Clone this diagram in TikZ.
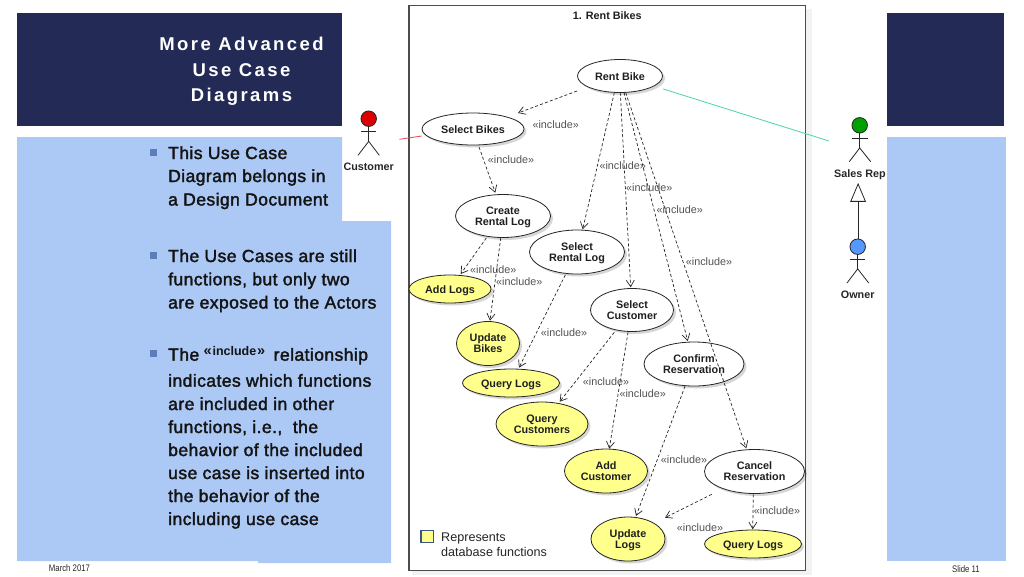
\documentclass[tikz,border=0pt]{standalone}
\usepackage{fontspec}
\setmainfont{Liberation Sans}
\newfontfamily\titlefont[LetterSpace=13]{Liberation Sans}
\newfontfamily\bodyfont[FakeBold=2,LetterSpace=2.5]{Liberation Sans}
\newfontfamily\narrowfont[FakeStretch=0.82]{Liberation Sans}
\usetikzlibrary{calc,shadows,arrows.meta,shapes.geometric}
\definecolor{navy}{HTML}{232A55}
\definecolor{paleblue}{HTML}{ACC8F5}
\definecolor{bullet}{HTML}{5B7DB8}
\definecolor{dbyellow}{HTML}{FFFF8C}
\tikzset{
  uc/.style={ellipse,draw=black!85,line width=.8pt,fill=white,inner sep=0pt,align=center,
    text depth=0pt,
    font=\fontsize{10.8}{11}\selectfont\bfseries,text=black!88,
    drop shadow={shadow xshift=2.5pt,shadow yshift=-2.5pt,opacity=.16,fill=black}},
  db/.style={uc,fill=dbyellow},
  oneline/.style={text height=9.4pt},
  dep/.style={draw=black!85,line width=.7pt,dash pattern=on 3pt off 2.2pt,
    -{Straight Barb[length=6.5pt,width=8pt,line width=.7pt]}},
  inc/.style={font=\fontsize{10.8}{12}\selectfont,text=black!68,inner sep=0pt},
  body/.style={anchor=base west,inner sep=0pt,font=\bodyfont\fontsize{17.5}{20}\selectfont,text=black!92},
  bull/.style={fill=bullet,draw=none,minimum size=7pt,inner sep=0pt},
  title/.style={anchor=base,inner sep=0pt,text=white,font=\titlefont\fontsize{18.5}{22}\selectfont\bfseries},
  actorlabel/.style={inner sep=0pt,text depth=0pt,font=\fontsize{10.8}{12}\selectfont\bfseries,text=black!85},
  limb/.style={draw=black!85,line width=.8pt},
  head/.style={circle,draw=black!85,line width=.8pt,minimum size=15.5pt,inner sep=0pt},
  foot/.style={inner sep=0pt,font=\narrowfont\fontsize{9.5}{11}\selectfont,text=black!85},
  legendtext/.style={anchor=base west,inner sep=0pt,font=\fontsize{12.6}{14}\selectfont,text=black!85}
}
\begin{document}
\begin{tikzpicture}[x=1pt,y=-1pt]
\useasboundingbox (0,0) rectangle (1024,576);
% slide background bands
\fill[navy] (17,13) rectangle (342,126);
\fill[navy] (887,13) rectangle (1004,126);
\fill[paleblue] (17,137) -- (342,137) -- (342,221) -- (391,221) -- (391,563) -- (258,563) -- (258,561) -- (17,561) -- cycle;
\fill[paleblue] (887,137) rectangle (1006,561);
% frame
\fill[black!5] (412,9) rectangle (812,575);
\draw[draw=black!70,line width=1.1pt,fill=white] (409,5.5) rectangle (805.5,570.3);
\node[title] (t1) at (241.5,50) {More Advanced};
\node[title] (t2) at (241.5,76) {Use Case};
\node[title] (t3) at (241.5,101.5) {Diagrams};
% bullets
\node[bull] (k1) at (153.8,152) {};
\node[bull] (k2) at (153.8,255.5) {};
\node[bull] (k3) at (153.8,353.5) {};
\node[body] (a1) at (168,159) {This Use Case};
\node[body] (a2) at (168,182) {Diagram belongs in};
\node[body] (a3) at (168,205.5) {a Design Document};
\node[body] (b1) at (168,262) {The Use Cases are still};
\node[body] (b2) at (168,285.3) {functions, but only two};
\node[body] (b3) at (168,308.5) {are exposed to the Actors};
\node[body] (c1) at (168,360.7) {The};
\node[body,font=\fontsize{12.5}{14}\selectfont\bfseries] (c2) at (203.5,355) {{\fontsize{14.5}{14}\selectfont«}\kern.8pt include\kern.8pt{\fontsize{14.5}{14}\selectfont»}};
\node[body] (c3) at (273.5,360.7) {relationship};
\node[body] (c4) at (168,386.7) {indicates which functions};
\node[body] (c5) at (168,410) {are included in other};
\node[body] (c6) at (168,433) {functions, i.e.,~ the};
\node[body] (c7) at (168,456) {behavior of the included};
\node[body] (c8) at (168,479) {use case is inserted into};
\node[body] (c9) at (168,502) {the behavior of the};
\node[body] (c10) at (168,525) {including use case};
\node[foot] (mar) at (69.5,568) {March 2017};
\node[foot] (sli) at (966,569) {Slide 11};
% diagram
\node[inner sep=0pt,text depth=0pt,font=\fontsize{10.8}{12}\selectfont\bfseries,text=black!88] (dt) at (607.3,16) {1. Rent Bikes};
\node[uc,oneline,minimum width=85pt,minimum height=33pt] (rent) at (620,76) {Rent Bike};
\node[uc,oneline,minimum width=102pt,minimum height=32pt] (sb) at (473,129) {Select Bikes};
\node[uc,minimum width=95pt,minimum height=43pt] (crl) at (503,216) {Create\\Rental Log};
\node[uc,minimum width=95pt,minimum height=44pt] (srl) at (577,252) {Select\\Rental Log};
\node[db,oneline,minimum width=82pt,minimum height=28pt] (al) at (450,289) {Add Logs};
\node[db,minimum width=63pt,minimum height=44pt] (ub) at (488,343.5) {Update\\Bikes};
\node[db,oneline,minimum width=97pt,minimum height=28pt] (ql) at (511,383) {Query Logs};
\node[db,minimum width=92pt,minimum height=44pt] (qc) at (542,424) {Query\\Customers};
\node[uc,minimum width=83pt,minimum height=43pt] (sc) at (632,310) {Select\\Customer};
\node[uc,minimum width=100pt,minimum height=44pt] (cr) at (694,364) {Confirm\\Reservation};
\node[db,minimum width=83pt,minimum height=44pt] (ac) at (606,471) {Add\\Customer};
\node[uc,minimum width=100pt,minimum height=44pt] (canc) at (754.5,471.5) {Cancel\\Reservation};
\node[db,minimum width=74pt,minimum height=44pt] (ul) at (628,539) {Update\\Logs};
\node[db,oneline,minimum width=97pt,minimum height=28pt] (ql2) at (753,544) {Query Logs};
% dependencies
\draw[dep] ($(rent)+(-43,15)$) -- ($(sb)+(45,-16)$);
\draw[dep] ($(sb)+(6,18)$) -- ($(crl)+(-7.7,-23.3)$);
\draw[dep] ($(rent)+(-5.7,16.7)$) -- ($(srl)+(5.7,-22.7)$);
\draw[dep] ($(rent)+(.3,16.7)$) -- ($(sc)+(-1.3,-22.7)$);
\draw[dep] ($(rent)+(4,16.7)$) -- ($(cr)+(-6.3,-23)$);
\draw[dep] ($(rent)+(5.7,16.7)$) -- ($(canc)+(-8.2,-23.2)$);
\draw[dep] ($(crl)+(-16.7,22)$) -- ($(al)+(10.7,-15)$);
\draw[dep] ($(crl)+(-2.3,22)$) -- ($(ub)+(2,-22.8)$);
\draw[dep] ($(srl)+(-11.7,23)$) -- ($(ql)+(8,-15.3)$);
\draw[dep] ($(sc)+(-17.7,22.3)$) -- ($(qc)+(17.7,-22.3)$);
\draw[dep] ($(sc)+(-4,22.3)$) -- ($(ac)+(3.3,-22.3)$);
\draw[dep] ($(cr)+(-9,22.3)$) -- ($(ul)+(8,-23)$);
\draw[dep] ($(canc)+(-42.8,22.8)$) -- ($(ul)+(37,-21.3)$);
\draw[dep] ($(canc)+(-1.2,22.8)$) -- ($(ql2)+(-.3,-14.7)$);
% include labels
\node[inc] (i1) at (555.7,124.3) {«include»};
\node[inc] (i2) at (511,160) {«include»};
\node[inc] (i3) at (622.7,165.7) {«include»};
\node[inc] (i4) at (649.3,187.7) {«include»};
\node[inc] (i5) at (679.7,209.3) {«include»};
\node[inc] (i6) at (709,262) {«include»};
\node[inc] (i7) at (493.3,270) {«include»};
\node[inc] (i8) at (519.3,282) {«include»};
\node[inc] (i9) at (564,332.3) {«include»};
\node[inc] (i10) at (606,382) {«include»};
\node[inc] (i11) at (642.7,393.3) {«include»};
\node[inc] (i12) at (684,459.3) {«include»};
\node[inc] (i13) at (777,510.3) {«include»};
\node[inc] (i14) at (700,527.3) {«include»};
% legend
\node[draw={rgb,255:red,60;green,85;blue,135},line width=1.2pt,fill=dbyellow,minimum size=12.4pt,inner sep=0pt] (leg) at (427.2,536.5) {};
\node[legendtext] (l1) at (441,541) {Represents};
\node[legendtext] (l2) at (441,556.5) {database functions};
% actors
\node[head,fill={rgb,255:red,221;green,0;blue,0}] (cust) at (368.7,118.7) {};
\draw[limb] (cust.south) -- ++(0,14.5) coordinate (cb);
\draw[limb] ($(cust)+(-8,12.6)$) -- ($(cust)+(7.6,12.6)$);
\draw[limb] ($(cust)+(-10.7,36.6)$) -- (cb) -- ($(cust)+(10.6,36.6)$);
\node[actorlabel] (custl) at (368.7,166.7) {Customer};
\node[head,fill={rgb,255:red,0;green,160;blue,0}] (rep) at (859.7,125.3) {};
\draw[limb] (rep.south) -- ++(0,14.5) coordinate (rb);
\draw[limb] ($(rep)+(-7.6,12.7)$) -- ($(rep)+(8,12.7)$);
\draw[limb] ($(rep)+(-10.4,36.4)$) -- (rb) -- ($(rep)+(11,36.4)$);
\node[actorlabel] (repl) at (860,173.3) {Sales Rep};
\node[head,fill={rgb,255:red,85;green,153;blue,255}] (own) at (857.7,246.7) {};
\draw[limb] (own.south) -- ++(0,14) coordinate (ob);
\draw[limb] ($(own)+(-7.7,12.3)$) -- ($(own)+(7.6,12.3)$);
\draw[limb] ($(own)+(-10.7,36.3)$) -- (ob) -- ($(own)+(11,36.3)$);
\node[actorlabel] (ownl) at (857.7,294.7) {Owner};
% associations
\draw[line width=.8pt,draw={rgb,255:red,225;green,70;blue,85}] ($(cust)+(30.6,20.6)$) -- ($(sb)+(-51.3,7)$);
\draw[line width=.8pt,draw={rgb,255:red,70;green,215;blue,170}] ($(rent)+(43.3,13)$) -- ($(rep)+(-30.7,15.7)$);
% generalization
\coordinate (gb) at ($(own.north)+(.4,-37.2)$);
\draw[limb] ($(own.north)+(.4,0)$) -- (gb);
\draw[limb,fill=white] ($(gb)+(-7.3,0)$) -- ($(gb)+(0,-17.4)$) -- ($(gb)+(7.3,0)$) -- cycle;
\end{tikzpicture}
\end{document}
